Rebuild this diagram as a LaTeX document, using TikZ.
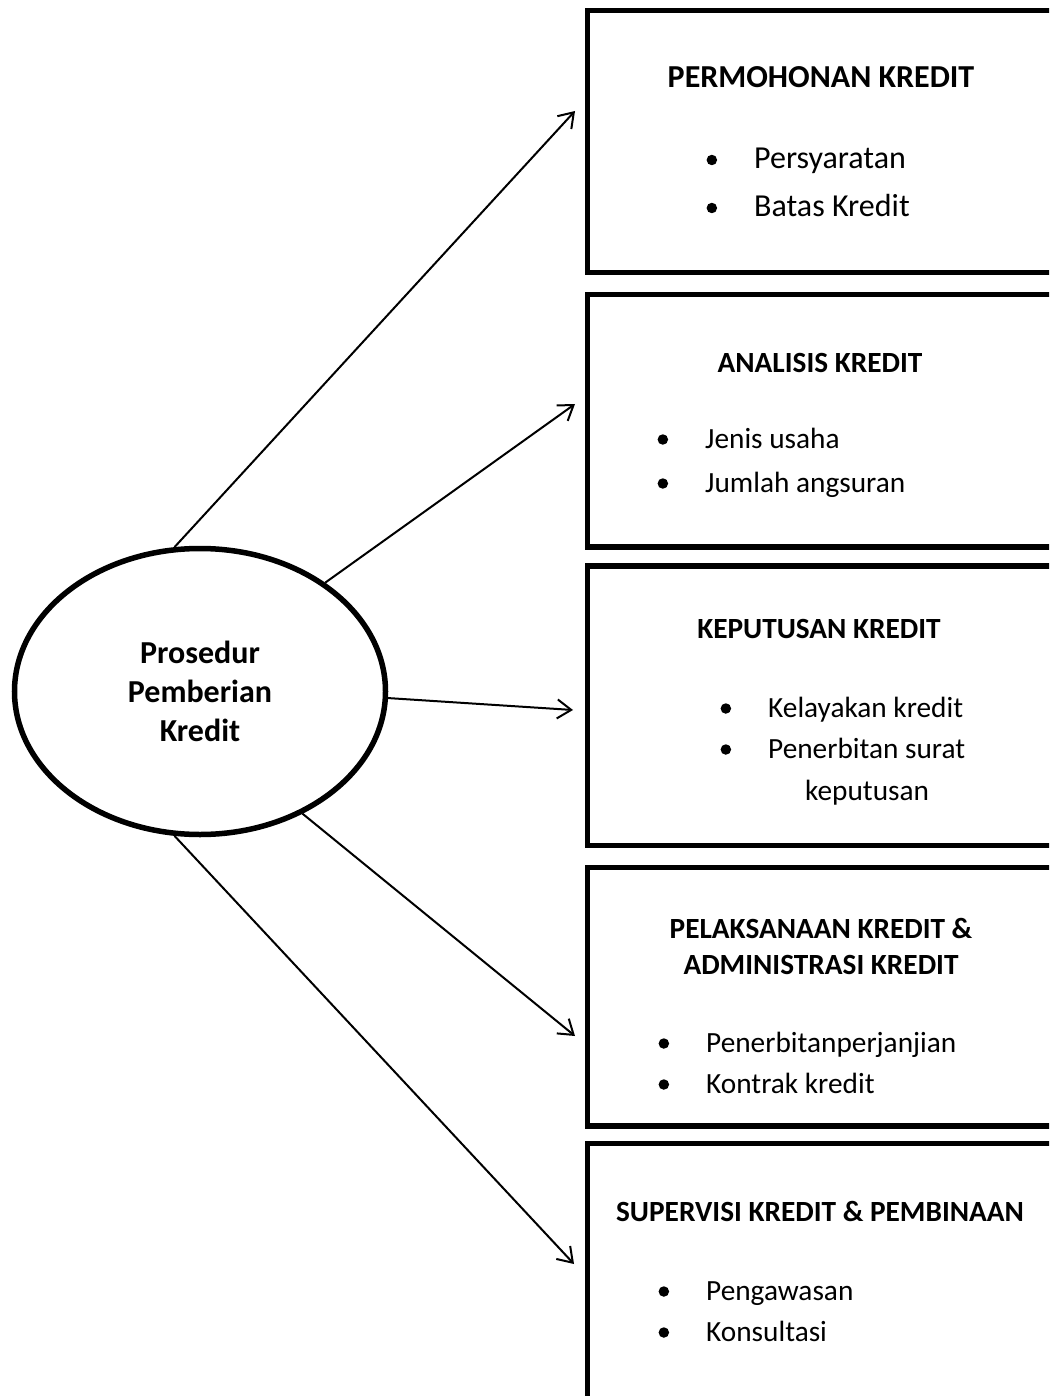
\documentclass[tikz,border=0pt]{standalone}
\usepackage{fontspec}
\setmainfont{Carlito}
\usetikzlibrary{arrows.meta, positioning, shapes.geometric}
\newcommand\hurufbesar{\fontsize{32}{39}\selectfont}
\newcommand\hurufsedang{\fontsize{29.3}{36}\selectfont}

\begin{document}
\begin{tikzpicture}[x=1pt, y=-1pt, >={Straight Barb[length=14pt, width=19pt]},
    kotak/.style={draw, line width=5.5pt, inner sep=0pt, outer sep=0pt, minimum width=520pt, anchor=north west},
    judul/.style={font=\hurufsedang\bfseries, anchor=base, inner sep=0pt},
    titik/.style={circle, fill, inner sep=0pt, text height=0pt, text depth=0pt, minimum size=10.5pt, label distance=36.7pt},
    teks/.style={font=\hurufsedang, anchor=base west, inner sep=0pt},
    butir/.style={teks, text height=22pt, text depth=5pt, label={[titik]left:{}}},
    panah/.style={->, line width=2pt}]
    \useasboundingbox (0,0) rectangle (1049,1396);
    \clip (0,0) rectangle (1049,1396);

    \node[draw, ellipse, line width=5.5pt, inner sep=0pt, minimum width=371pt, minimum height=286pt,
          font=\hurufbesar\bfseries, align=center] (pusat) at (200,691.5) {Prosedur\\Pemberian\\Kredit};

    \node[kotak, minimum height=262pt] (k1) at (587.5,10.5) {};
    \node[kotak, minimum height=252.5pt] (k2) at (587.5,294.5) {};
    \node[kotak, minimum height=279.5pt] (k3) at (587.5,566) {};
    \node[kotak, minimum height=258.5pt] (k4) at (587.5,867.5) {};
    \node[kotak, minimum height=280pt] (k5) at (587.5,1143.5) {};

    \coordinate (u1) at (575,111);
    \coordinate (u2) at (575,404);
    \coordinate (u3) at (573,710);
    \coordinate (u4) at (575,1036);
    \coordinate (u5) at (574,1264);

    \draw[panah] (pusat.100) -- (u1);
    \draw[panah] (pusat.41) -- (u2);
    \draw[panah] (pusat.-2) -- (u3);
    \draw[panah] (pusat.-50) -- (u4);
    \draw[panah] (pusat.-100) -- (u5);

    \node[judul, font=\hurufbesar\bfseries] (j1) at (821,88) {PERMOHONAN KREDIT};
    \node[butir, font=\hurufbesar, text height=23pt] (i11) at (754,169) {Persyaratan};
    \node[butir, font=\hurufbesar, text height=23pt] (i12) at (754,217) {Batas Kredit};

    \node[judul] (j2) at (820,372) {ANALISIS KREDIT};
    \node[butir] (i21) at (705,448) {Jenis usaha};
    \node[butir] (i22) at (705,492) {Jumlah angsuran};

    \node[judul] (j3) at (819,638) {KEPUTUSAN KREDIT};
    \node[butir] (i31) at (768,717) {Kelayakan kredit};
    \node[butir] (i32) at (768,758) {Penerbitan surat};
    \node[teks] (i33) at (805,800) {keputusan};

    \node[judul] (j4) at (821,938) {PELAKSANAAN KREDIT \&};
    \node[judul] (j4b) at (821,974) {ADMINISTRASI KREDIT};
    \node[butir] (i41) at (706,1052) {Penerbitanperjanjian};
    \node[butir] (i42) at (706,1093) {Kontrak kredit};

    \node[judul] (j5) at (820,1221) {SUPERVISI KREDIT \& PEMBINAAN};
    \node[butir] (i51) at (706,1300) {Pengawasan};
    \node[butir] (i52) at (706,1341) {Konsultasi};
\end{tikzpicture}
\end{document}
